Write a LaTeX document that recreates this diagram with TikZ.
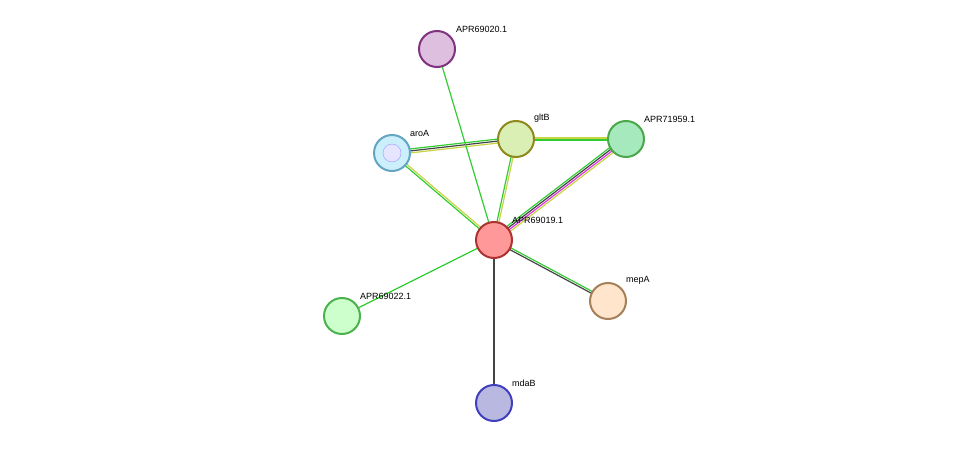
\documentclass[tikz,border=0pt]{standalone}
\usepackage{fontspec}
\setmainfont{Liberation Sans}
\usetikzlibrary{calc}
\definecolor{eg}{HTML}{33CC33}
\definecolor{ey}{HTML}{C8D444}
\definecolor{ed}{HTML}{444444}
\definecolor{em}{HTML}{DD33DD}
\tikzset{x=1pt,y=-1pt,
 prot/.style={circle,minimum size=36pt,inner sep=0pt,line width=2pt},
 lab/.style={font=\fontsize{9}{9}\selectfont,anchor=south west,inner sep=0pt},
 e/.style={line width=1.2pt}}
\newcommand{\edg}[4]{\draw[e,#4] ($(#1)!#3!90:(#2)$) -- ($(#2)!#3!-90:(#1)$);}
\begin{document}
\begin{tikzpicture}
\useasboundingbox (0,0) rectangle (975,449);
\coordinate (c20) at (437,49);
\coordinate (cA) at (392,153);
\coordinate (cG) at (516,139);
\coordinate (c59) at (626,139);
\coordinate (c19) at (494,240);
\coordinate (c22) at (342,316);
\coordinate (cM) at (608,301);
\coordinate (cD) at (494,403);
% edges
\edg{cA}{cG}{-2pt}{ey}\edg{cA}{cG}{0pt}{ed}\edg{cA}{cG}{2pt}{eg}
\edg{cG}{c59}{-1pt}{eg}\edg{cG}{c59}{1pt}{ey}
\edg{c59}{c19}{-3pt}{eg}\edg{c59}{c19}{-1pt}{ed}\edg{c59}{c19}{1pt}{em}\edg{c59}{c19}{3pt}{ey}
\edg{cG}{c19}{-1pt}{eg}\edg{cG}{c19}{1pt}{ey}
\edg{cA}{c19}{-1pt}{eg}\edg{cA}{c19}{1pt}{ey}
\edg{c20}{c19}{0pt}{eg}
\edg{c19}{cM}{-1pt}{ed}\edg{c19}{cM}{1pt}{eg}
\edg{c19}{c22}{0pt}{eg}
\edg{c19}{cD}{0pt}{ed}
% nodes
\node[prot,draw=violet!60!gray,fill=violet!25] (n20) at (c20) {};
\node[prot,draw=teal!50!cyan!70!gray,fill=cyan!20,draw=cyan!50!gray] (nA) at (cA) {};
\node[prot,draw=olive!80!gray,fill=yellow!50!green!30] (nG) at (cG) {};
\node[prot,draw=green!50!black!70,fill=green!50!teal!35] (n59) at (c59) {};
\node[prot,draw=red!60!black!80,fill=red!40] (n19) at (c19) {};
\node[prot,draw=green!40!gray,fill=green!20] (n22) at (c22) {};
\node[prot,draw=brown!60!gray,fill=orange!20] (nM) at (cM) {};
\node[prot,draw=blue!50!gray,fill=blue!40!gray!40] (nD) at (cD) {};
\node[circle,minimum size=18pt,inner sep=0pt,draw=blue!40,fill=blue!10,line width=.4pt] at (cA) {};
% labels
\node[lab] at (456,33) {APR69020.1};
\node[lab] at (410,137) {aroA};
\node[lab] at (534,123) {gltB};
\node[lab] at (644,123) {APR71959.1};
\node[lab] at (512,224) {APR69019.1};
\node[lab] at (360,300) {APR69022.1};
\node[lab] at (626,285) {mepA};
\node[lab] at (512,387) {mdaB};
\end{tikzpicture}
\end{document}
